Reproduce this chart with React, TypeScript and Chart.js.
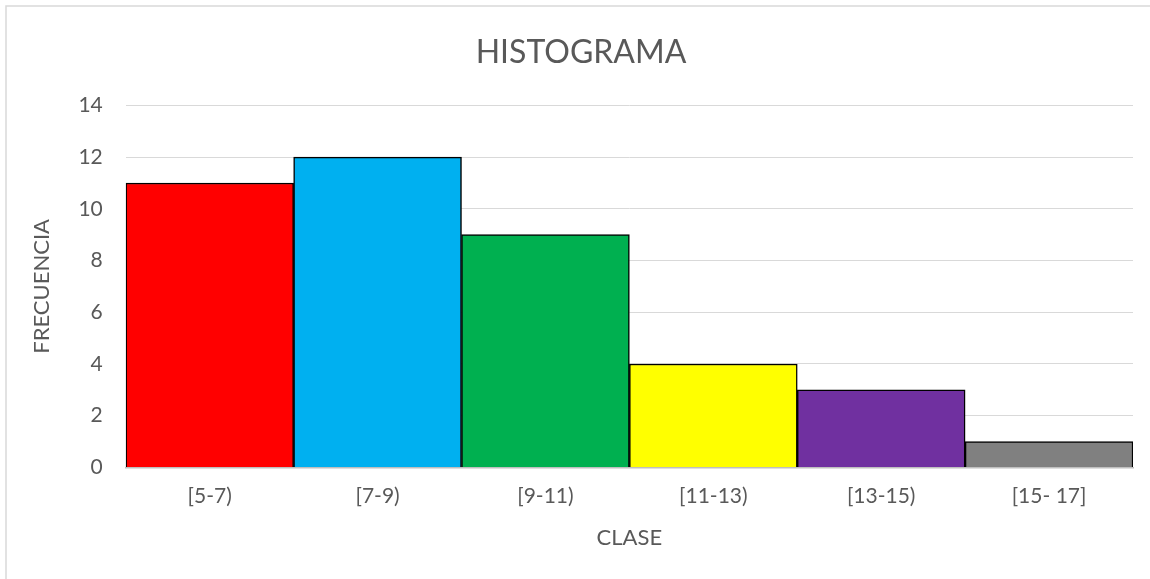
import React, { useEffect, useRef } from "react";
import { Chart, registerables } from "chart.js";

Chart.register(...registerables);

const categories = ["[5-7)", "[7-9)", "[9-11)", "[11-13)", "[13-15)", "[15- 17]"];
const frequencies = [11, 12, 9, 4, 3, 1];
const barColors = ["#FF0000", "#00B0F0", "#00B050", "#FFFF00", "#7030A0", "#808080"];
const chartTitle = "HISTOGRAMA";
const xTitle = "CLASE";
const yTitle = "FRECUENCIA";

const FONT = "Lato, 'Open Sans', sans-serif";
const TEXT = "#595959";

const framePlugin = {
  id: "frame",
  beforeDraw(chart: any) {
    const ctx = chart.ctx;
    ctx.save();
    ctx.fillStyle = "#ffffff";
    ctx.fillRect(0, 0, chart.width, chart.height);
    ctx.strokeStyle = "#d9d9d9";
    ctx.lineWidth = 1.5;
    ctx.strokeRect(6, 6, chart.width + 20, chart.height + 20);
    ctx.restore();
  },
};

export default function App() {
  const ref = useRef<HTMLCanvasElement>(null);
  useEffect(() => {
    if (!ref.current) return;
    const chart = new Chart(ref.current, {
      type: "bar",
      data: {
        labels: categories,
        datasets: [
          {
            data: frequencies,
            backgroundColor: barColors,
            borderColor: "#000000",
            borderWidth: 1.5,
            barPercentage: 1,
            categoryPercentage: 1,
          },
        ],
      },
      options: {
        animation: false,
        responsive: false,
        layout: { padding: { left: 29, right: 17, top: 22, bottom: 28 } },
        plugins: {
          legend: { display: false },
          tooltip: { enabled: false },
          title: {
            display: true,
            text: chartTitle,
            color: TEXT,
            font: { family: FONT, size: 32, weight: "normal" },
            padding: { top: 11, bottom: 34 },
          },
        },
        scales: {
          x: {
            grid: { display: false, drawTicks: false },
            border: { display: true, color: "#bfbfbf", width: 1.5 },
            ticks: { color: TEXT, font: { family: FONT, size: 21 }, padding: 16 },
            title: {
              display: true,
              text: xTitle,
              color: TEXT,
              font: { family: FONT, size: 22 },
              padding: { top: 0, bottom: 0 },
            },
          },
          y: {
            min: 0,
            max: 14,
            ticks: { stepSize: 2, color: TEXT, font: { family: FONT, size: 21 }, padding: 23 },
            grid: { color: "#d9d9d9", lineWidth: 1, drawTicks: false },
            border: { display: false },
            title: {
              display: true,
              text: yTitle,
              color: TEXT,
              font: { family: FONT, size: 22 },
              padding: { top: 0, bottom: 0 },
            },
          },
        },
      },
      plugins: [framePlugin],
    });
    return () => chart.destroy();
  }, []);
  return (
    <div style={{ position: "absolute", left: 0, top: 0, width: 1150, height: 579 }}>
      <canvas ref={ref} width={1150} height={579} style={{ display: "block" }} />
    </div>
  );
}
